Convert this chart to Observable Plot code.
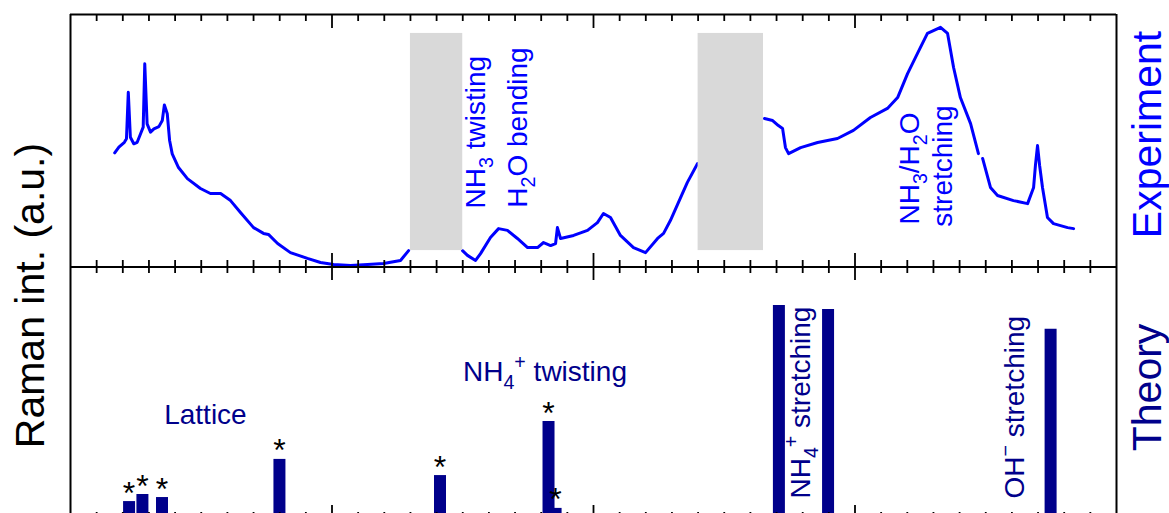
<!DOCTYPE html>
<html>
<head>
<meta charset="utf-8">
<script src="https://cdn.jsdelivr.net/npm/d3@7"></script>
<script src="https://cdn.jsdelivr.net/npm/@observablehq/plot@0.6"></script>
<style>
  html, body { margin: 0; padding: 0; background: #fff; overflow: hidden; }
  #chart { width: 1169px; height: 513px; overflow: hidden; }
</style>
</head>
<body>
<div id="chart"></div>
<script>
// ---------- Experiment spectrum (wavenumber cm^-1, intensity a.u. 0-100); null = gap ----------
const expWn = [169,185,206,214,221,229,242,255,268,278,284,293,306,319,338,351,359,370,379,389,
  413,447,497,535,574,612,650,700,738,757,792,841,906,956,1006,1071,1136,1197,1262,1293,
  1400,
  1499,1518,1549,1568,1606,1637,1671,1709,1748,1786,1809,1836,1855,1862,1874,1924,1977,2015,2038,2065,
  2103,2153,2199,2245,2268,2294,2333,2359,2398,
  2520,
  2654,2685,2707,2723,2734,2746,2792,2857,2933,2994,3059,3124,3163,3201,3239,3277,3327,3354,3377,3403,
  3442,3472,
  3480,
  3488,3518,3545,3606,3660,3683,3690,3698,3706,3717,3736,3759,3813,3836];
const expI = [45.2,47.5,49.4,50.8,69.2,51.4,48.8,49.4,52.8,55.4,80.5,56.7,53.4,54.7,55.6,58.0,64.2,60.7,50.1,44.8,
  39.4,35.0,31.1,29.1,29.1,26.3,21.6,15.6,13.3,12.9,9.3,5.7,3.4,1.8,1.0,0.6,1.0,1.4,2.6,6.5,
  null,
  6.5,4.6,2.6,5.3,11.7,15.2,14.5,11.3,7.7,7.7,9.7,8.5,9.3,15.6,11.3,12.5,14.5,17.6,21.2,19.6,
  12.5,7.7,5.7,11.3,13.3,18.4,27.5,33.5,41.0,
  null,
  58.8,58.0,56.0,54.9,47.3,44.9,47.3,49.3,50.9,54.1,59.2,62.8,67.1,76.6,84.6,92.5,94.9,92.5,79.0,67.1,
  56.8,44.9,
  null,
  43.0,31.5,28.3,26.3,25.1,31.5,40.2,48.1,40.2,31.5,19.6,17.2,15.6,15.2];

// Masked (grey) spectral windows, cm^-1
const maskFrom = [1300, 2400];
const maskTo   = [1500, 2650];
const maskLow = 6.5, maskHigh = 92.5;

// ---------- Theory (calculated Raman lines) ----------
const thWn   = [224, 275, 350, 799, 1413, 1855, 1828, 2709, 2897, 3748];
const thI    = [7.1, 9.9, 8.7, 23.8, 17.4, 4.4, 38.8, 84.8, 83.2, 75.3];
const thStar = [true, true, true, true, true, true, true, false, false, false];

// Annotations
const expNotesStart = [
  {text: "NH{_3} twisting", wn: 1585, v: 23.2},
  {text: "H{_2}O bending", wn: 1746, v: 23.5}
];
const expNotesMid = [
  {text: "NH{_3}/H{_2}O", wn: 3243, v: 39.0},
  {text: "stretching", wn: 3370, v: 40.0}
];
const thNotesMid = [{text: "Lattice", wn: 516, v: 38.0}];
const thNotesStart = [{text: "NH{_4}{^+} twisting", wn: 1501, v: 55.0}];
const thNotesV = [
  {text: "NH{_4}{^+} stretching", wn: 2827, v: 8.3},
  {text: "OH{^−} stretching", wn: 3645, v: 8.3}
];

const majorTicks = [1000, 2000, 3000];
const minorTicks = d3.range(100, 4000, 100).filter(t => t % 1000 !== 0);

const BLUE = "#0000ff", NAVY = "#00008b";
const FONT = "'Liberation Sans', Arial, Helvetica, sans-serif";

const expRows = expWn.map((wn, i) => ({wn, I: expI[i]}));
const masks = maskFrom.map((f, i) => ({from: f, to: maskTo[i]}));
const theory = thWn.map((wn, i) => ({wn, I: thI[i], star: thStar[i]}));

const upperY = v => 1 + v / 100;   // experiment panel occupies y in [1,2]
const lowerY = v => v / 100;       // theory panel occupies y in [0,1]

function ticksAt(level, minorIn, majorIn) {
  return [
    Plot.ruleX(minorTicks, {x: d => d, y1: () => level, y2: () => level, stroke: "black", strokeWidth: 1.8, ...minorIn}),
    Plot.ruleX(majorTicks, {x: d => d, y1: () => level, y2: () => level, stroke: "black", strokeWidth: 1.8, ...majorIn})
  ];
}

const chart = Plot.plot({
  width: 1169,
  height: 513,
  marginLeft: 70, marginRight: 53, marginTop: 14, marginBottom: 0,
  x: {domain: [0, 4000], range: [70, 1116], axis: null},
  y: {domain: [0, 2], range: [519, 14], axis: null},
  style: {fontFamily: FONT, background: "white"},
  marks: [
    // experiment
    Plot.line(expRows, {x: "wn", y: d => d.I == null ? NaN : upperY(d.I), stroke: BLUE, strokeWidth: 3, strokeLinejoin: "round"}),
    Plot.rect(masks, {x1: "from", x2: "to", y1: () => upperY(maskLow), y2: () => upperY(maskHigh), fill: "#d9d9d9"}),
    // theory bars
    Plot.ruleX(theory, {x: "wn", y1: () => 0, y2: d => lowerY(d.I), stroke: NAVY, strokeWidth: 12}),
    Plot.text(theory.filter(d => d.star), {x: "wn", y: d => lowerY(d.I), text: () => "*", fontSize: 32, lineAnchor: "bottom", dy: 2, fill: "black"}),
    // frame
    Plot.ruleY([0, 1, 2], {y: d => d, x1: () => 0, x2: () => 4000, stroke: "black", strokeWidth: 2}),
    Plot.ruleX([0, 4000], {x: d => d, y1: () => 0, y2: () => 2, stroke: "black", strokeWidth: 2}),
    ...ticksAt(2, {insetBottom: -7}, {insetBottom: -14}),
    ...ticksAt(1, {insetTop: -6.5, insetBottom: -6.5}, {insetTop: -13.5, insetBottom: -13.5}),
    ...ticksAt(0, {insetTop: -7}, {insetTop: -14}),
    // annotations
    Plot.text(expNotesStart, {x: "wn", y: d => upperY(d.v), text: "text", rotate: -90, textAnchor: "start", lineAnchor: "bottom", fontSize: 28, fill: BLUE}),
    Plot.text(expNotesMid, {x: "wn", y: d => upperY(d.v), text: "text", rotate: -90, textAnchor: "middle", lineAnchor: "bottom", fontSize: 28, fill: BLUE}),
    Plot.text(thNotesMid, {x: "wn", y: d => lowerY(d.v), text: "text", textAnchor: "middle", lineAnchor: "bottom", fontSize: 28, fill: NAVY}),
    Plot.text(thNotesStart, {x: "wn", y: d => lowerY(d.v), text: "text", textAnchor: "start", lineAnchor: "bottom", fontSize: 28, fill: NAVY}),
    Plot.text(thNotesV, {x: "wn", y: d => lowerY(d.v), text: "text", rotate: -90, textAnchor: "start", lineAnchor: "bottom", fontSize: 28, fill: NAVY}),
    // panel / axis labels
    Plot.text(["Raman int. (a.u.)"], {x: () => 0, y: () => 0.887, text: d => d, dx: -27, rotate: -90, textAnchor: "middle", lineAnchor: "bottom", fontSize: 41, fill: "black"}),
    Plot.text(["Experiment"], {x: () => 4000, y: () => upperY(52.5), text: d => d, dx: 44, rotate: -90, textAnchor: "middle", lineAnchor: "bottom", fontSize: 41, fill: BLUE}),
    Plot.text(["Theory"], {x: () => 4000, y: () => lowerY(52.3), text: d => d, dx: 44, rotate: -90, textAnchor: "middle", lineAnchor: "bottom", fontSize: 41, fill: NAVY})
  ]
});

document.getElementById("chart").appendChild(chart);

// Convert {_x} / {^x} markup into real subscript / superscript tspans
d3.select(chart).selectAll("text").each(function () {
  const el = this;
  const raw = el.textContent;
  if (!/\{[_^]/.test(raw)) return;
  const fs = parseFloat(getComputedStyle(el).fontSize) || 28;
  const re = /\{([_^])([^}]*)\}/g;
  const parts = [];
  let last = 0, m;
  while ((m = re.exec(raw))) {
    if (m.index > last) parts.push({t: raw.slice(last, m.index), k: ""});
    parts.push({t: m[2], k: m[1]});
    last = re.lastIndex;
  }
  if (last < raw.length) parts.push({t: raw.slice(last), k: ""});
  el.textContent = "";
  let cur = 0;
  for (const p of parts) {
    const target = p.k === "_" ? 0.3 * fs : p.k === "^" ? -0.42 * fs : 0;
    const ts = d3.select(el).append("tspan").text(p.t);
    if (target !== cur) ts.attr("dy", target - cur);
    if (p.k) ts.attr("font-size", 0.7 * fs);
    cur = target;
  }
});
</script>
</body>
</html>
